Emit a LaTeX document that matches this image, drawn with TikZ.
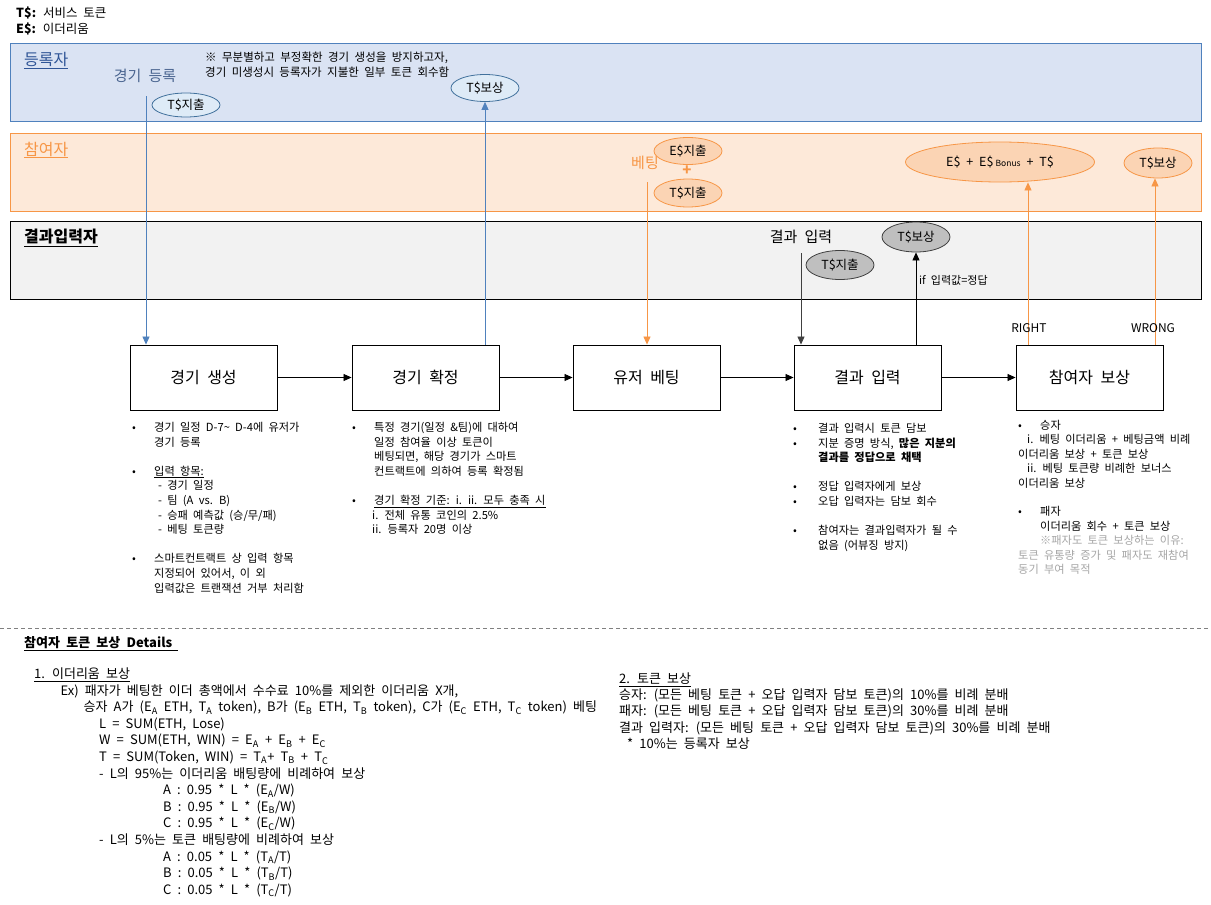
\documentclass[tikz,border=0pt]{standalone}
\usepackage{fontspec}
\setmainfont{Noto Sans CJK KR}[WordSpace=2.1]
\usetikzlibrary{shapes.geometric,arrows.meta}
\definecolor{laneBlueFill}{HTML}{DAE3F3}
\definecolor{laneBlueLine}{HTML}{4F81BD}
\definecolor{laneOrFill}{HTML}{FDE9D9}
\definecolor{laneOrLine}{HTML}{F79646}
\definecolor{laneGrFill}{HTML}{F2F2F2}
\definecolor{ellBlueFill}{HTML}{DEEBF7}
\definecolor{ellBlueLine}{HTML}{41719C}
\definecolor{ellOrFill}{HTML}{FBD4B4}
\definecolor{ellGrFill}{HTML}{BFBFBF}
\definecolor{regText}{HTML}{2F5597}
\definecolor{regLabel}{HTML}{4A6590}
\definecolor{noteGray}{HTML}{A6A6A6}
\begin{document}
\begin{tikzpicture}[x=1pt,y=-1pt,
  lane/.style={draw, line width=0.9pt, anchor=north west, minimum width=1191pt, minimum height=78pt, inner sep=0pt},
  stepbox/.style={draw, line width=0.9pt, minimum width=147pt, minimum height=65pt, font=\fontsize{16}{19}\selectfont, inner sep=0pt},
  ell/.style={ellipse, draw, line width=0.8pt, inner sep=0pt, minimum width=68pt, minimum height=26pt, font=\fontsize{12.5}{15}\selectfont},
  ellB/.style={ell, fill=ellBlueFill, draw=ellBlueLine},
  ellO/.style={ell, fill=ellOrFill, draw=laneOrLine},
  ellG/.style={ell, fill=ellGrFill, draw=black!75},
  tip/.style={-{Triangle[length=8pt,width=7pt]}, line width=0.8pt},
  lanelabel/.style={anchor=west, inner sep=0pt, font=\fontsize{16}{19}\selectfont},
  biglabel/.style={inner sep=0pt, font=\fontsize{15}{18}\selectfont},
  txt/.style={anchor=north west, inner sep=0pt, align=left, font=\fontsize{11.2}{14.6}\selectfont},
  btxt/.style={anchor=north west, inner sep=0pt, align=left, font=\fontsize{13}{16.6}\selectfont},
  small/.style={inner sep=0pt, font=\fontsize{12.5}{14}\selectfont}
]
\fill[white] (0,0) rectangle (1211,905);
\useasboundingbox (0,0) rectangle (1211,905);

% legend
\node[small, anchor=west] (legT) at (16,13) {\textbf{T\$:} 서비스 토큰};
\node[small, anchor=west] (legE) at (16,29) {\textbf{E\$:} 이더리움};

% lanes
\node[lane, fill=laneBlueFill, draw=laneBlueLine] (laneReg) at (10,43) {};
\node[lane, fill=laneOrFill, draw=laneOrLine] (lanePar) at (10,133) {};
\node[lane, fill=laneGrFill, draw=black] (laneRes) at (10,221) {};

\node[lanelabel, text=regText] (lblReg) at (24,61) {\underline{등록자}};
\node[lanelabel, text=laneOrLine] (lblPar) at (24,150) {\underline{참여자}};
\node[lanelabel, text=black] (lblRes) at (24,238) {\textbf{\underline{결과입력자}}};

% registrar lane content
\node[biglabel, text=regLabel] (regAct) at (145,76) {경기 등록};
\node[txt, font=\fontsize{11.5}{15}\selectfont] (note) at (205,51.5) {※ 무분별하고 부정확한 경기 생성을 방지하고자,\\경기 미생성시 등록자가 지불한 일부 토큰 회수함};
\node[ellB, minimum height=24pt] (tbx) at (186,105) {T\$지출};
\node[ellB, minimum height=27pt] (tbo) at (485,88) {T\$보상};

% participant lane content
\node[biglabel, text=laneOrLine] (betLbl) at (645,163) {베팅};
\node[ellO, minimum height=27pt] (eox) at (688,151) {E\$지출};
\node[inner sep=0pt, text=laneOrLine, font=\fontsize{15}{15}\selectfont\bfseries] (plus) at (687,171) {+};
\node[ellO, minimum height=28pt] (tox) at (688,193) {T\$지출};
\node[ellO, minimum width=189pt, minimum height=40pt] (ebon) at (1000,162) {E\$ + E\$\,{\fontsize{8.5}{9}\selectfont Bonus} + T\$};
\node[ellO, minimum height=30pt] (tor) at (1158,163) {T\$보상};

% result lane content
\node[biglabel] (resLbl) at (801,237) {결과 입력};
\node[ellG, minimum height=30pt] (gtb) at (916,237) {T\$보상};
\node[ellG, minimum height=29pt] (gtx) at (840,265) {T\$지출};
\node[inner sep=0pt, anchor=west, font=\fontsize{11}{13}\selectfont] (ifLbl) at (919,280) {if 입력값=정답};

% process boxes
\node[stepbox] (b1) at (203.5,377.5) {경기 생성};
\node[stepbox] (b2) at (425.5,377.5) {경기 확정};
\node[stepbox] (b3) at (646.5,377.5) {유저 베팅};
\node[stepbox] (b4) at (867.5,377.5) {결과 입력};
\node[stepbox] (b5) at (1089.5,377.5) {참여자 보상};

\draw[tip] (b1) -- (b2);
\draw[tip] (b2) -- (b3);
\draw[tip] (b3) -- (b4);
\draw[tip] (b4) -- (b5);

% vertical connectors
\coordinate (c1) at (146,96);
\draw[tip, draw=laneBlueLine] (c1) -- (c1 |- b1.north);
\draw[tip, draw=laneBlueLine] (b2.north -| tbo.south) -- (tbo.south);
\coordinate (c3) at (647,182);
\draw[tip, draw=laneOrLine] (c3) -- (c3 |- b3.north);
\coordinate (c4) at (801,253);
\draw[tip, draw=black!75] (c4) -- (c4 |- b4.north);
\draw[tip, draw=black] (b4.north -| gtb.south) -- (gtb.south);
\coordinate (c5) at (1028,0);
\draw[tip, draw=laneOrLine] (b5.north -| c5) -- (ebon.south -| c5);
\coordinate (c6) at (1155,0);
\draw[tip, draw=laneOrLine] (b5.north -| c6) -- (tor.south -| c6);

\node[small, font=\fontsize{12}{14}\selectfont] (rightLbl) at (1029,328) {RIGHT};
\node[small, font=\fontsize{12}{14}\selectfont] (wrongLbl) at (1153,328) {WRONG};

% description lists
\node[txt] (d1) at (132,422) {\makebox[22pt][l]{•}경기 일정 D-7\textasciitilde{} D-4에 유저가\\
\hspace*{22pt}경기 등록\\[14.6pt]
\makebox[22pt][l]{•}\underline{입력 항목:}\\
\hspace*{26pt}- 경기 일정\\
\hspace*{26pt}- 팀 (A vs. B)\\
\hspace*{26pt}- 승패 예측값 (승/무/패)\\
\hspace*{26pt}- 베팅 토큰량\\[14.6pt]
\makebox[22pt][l]{•}스마트컨트랙트 상 입력 항목\\
\hspace*{22pt}지정되어 있어서, 이 외\\
\hspace*{22pt}입력값은 트랜잭션 거부 처리함};

\node[txt] (d2) at (352,422) {\makebox[22pt][l]{•}특정 경기(일정 \&팀)에 대하여\\
\hspace*{22pt}일정 참여율 이상 토큰이\\
\hspace*{22pt}베팅되면, 해당 경기가 스마트\\
\hspace*{22pt}컨트랙트에 의하여 등록 확정됨\\[14.6pt]
\makebox[22pt][l]{•}\underline{경기 확정 기준: i. ii. 모두 충족 시}\\
\hspace*{20pt}i. 전체 유통 코인의 2.5\%\\
\hspace*{20pt}ii. 등록자 20명 이상};

\node[txt] (d4) at (793,423) {\makebox[25pt][l]{•}결과 입력시 토큰 담보\\
\makebox[25pt][l]{•}지분 증명 방식, \textbf{많은 지분의}\\
\hspace*{25pt}\textbf{결과를 정답으로 채택}\\[14.6pt]
\makebox[25pt][l]{•}정답 입력자에게 보상\\
\makebox[25pt][l]{•}오답 입력자는 담보 회수\\[14.6pt]
\makebox[25pt][l]{•}참여자는 결과입력자가 될 수\\
\hspace*{25pt}없음 (어뷰징 방지)};

\node[txt, font=\fontsize{11.2}{14.4}\selectfont] (d5) at (1018,420) {\makebox[22pt][l]{•}승자\\
\hspace*{9pt}i. 베팅 이더리움 + 베팅금액 비례\\
이더리움 보상 + 토큰 보상\\
\hspace*{9pt}ii. 베팅 토큰량 비례한 보너스\\
이더리움 보상\\[14.4pt]
\makebox[22pt][l]{•}패자\\
\hspace*{22pt}이더리움 회수 + 토큰 보상\\
\hspace*{22pt}\textcolor{noteGray}{※패자도 토큰 보상하는 이유:}\\
\textcolor{noteGray}{토큰 유통량 증가 및 패자도 재참여}\\
\textcolor{noteGray}{동기 부여 목적}};

% separator
\coordinate (sepL) at (0,628);
\coordinate (sepR) at (1211,628);
\draw[dashed, draw=black!50, line width=0.8pt, dash pattern=on 4pt off 3pt] (sepL) -- (sepR);

% details
\node[btxt, anchor=west] (detTitle) at (24,644) {\textbf{\underline{참여자 토큰 보상 Details }}};
\node[btxt] (det1) at (34,667.5) {\underline{1. 이더리움 보상}\\
\hspace*{26.5pt}Ex) 패자가 베팅한 이더 총액에서 수수료 10\%를 제외한 이더리움 X개,\\
\hspace*{49.5pt}승자 A가 (E\textsubscript{A} ETH, T\textsubscript{A} token), B가 (E\textsubscript{B} ETH, T\textsubscript{B} token), C가 (E\textsubscript{C} ETH, T\textsubscript{C} token) 베팅\\
\hspace*{65pt}L = SUM(ETH, Lose)\\
\hspace*{65pt}W = SUM(ETH, WIN) = E\textsubscript{A} + E\textsubscript{B} + E\textsubscript{C}\\
\hspace*{65pt}T = SUM(Token, WIN) = T\textsubscript{A}+ T\textsubscript{B} + T\textsubscript{C}\\
\hspace*{65pt}- L의 95\%는 이더리움 배팅량에 비례하여 보상\\
\hspace*{129pt}A : 0.95 * L * (E\textsubscript{A}/W)\\
\hspace*{129pt}B : 0.95 * L * (E\textsubscript{B}/W)\\
\hspace*{129pt}C : 0.95 * L * (E\textsubscript{C}/W)\\
\hspace*{65pt}- L의 5\%는 토큰 배팅량에 비례하여 보상\\
\hspace*{129pt}A : 0.05 * L * (T\textsubscript{A}/T)\\
\hspace*{129pt}B : 0.05 * L * (T\textsubscript{B}/T)\\
\hspace*{129pt}C : 0.05 * L * (T\textsubscript{C}/T)};

\node[btxt, font=\fontsize{13}{16.2}\selectfont] (det2) at (619,672.5) {\underline{2. 토큰 보상}\\
승자: (모든 베팅 토큰 + 오답 입력자 담보 토큰)의 10\%를 비례 분배\\
패자: (모든 베팅 토큰 + 오답 입력자 담보 토큰)의 30\%를 비례 분배\\
결과 입력자: (모든 베팅 토큰 + 오답 입력자 담보 토큰)의 30\%를 비례 분배\\
\hspace*{8pt}* 10\%는 등록자 보상};
\end{tikzpicture}
\end{document}
